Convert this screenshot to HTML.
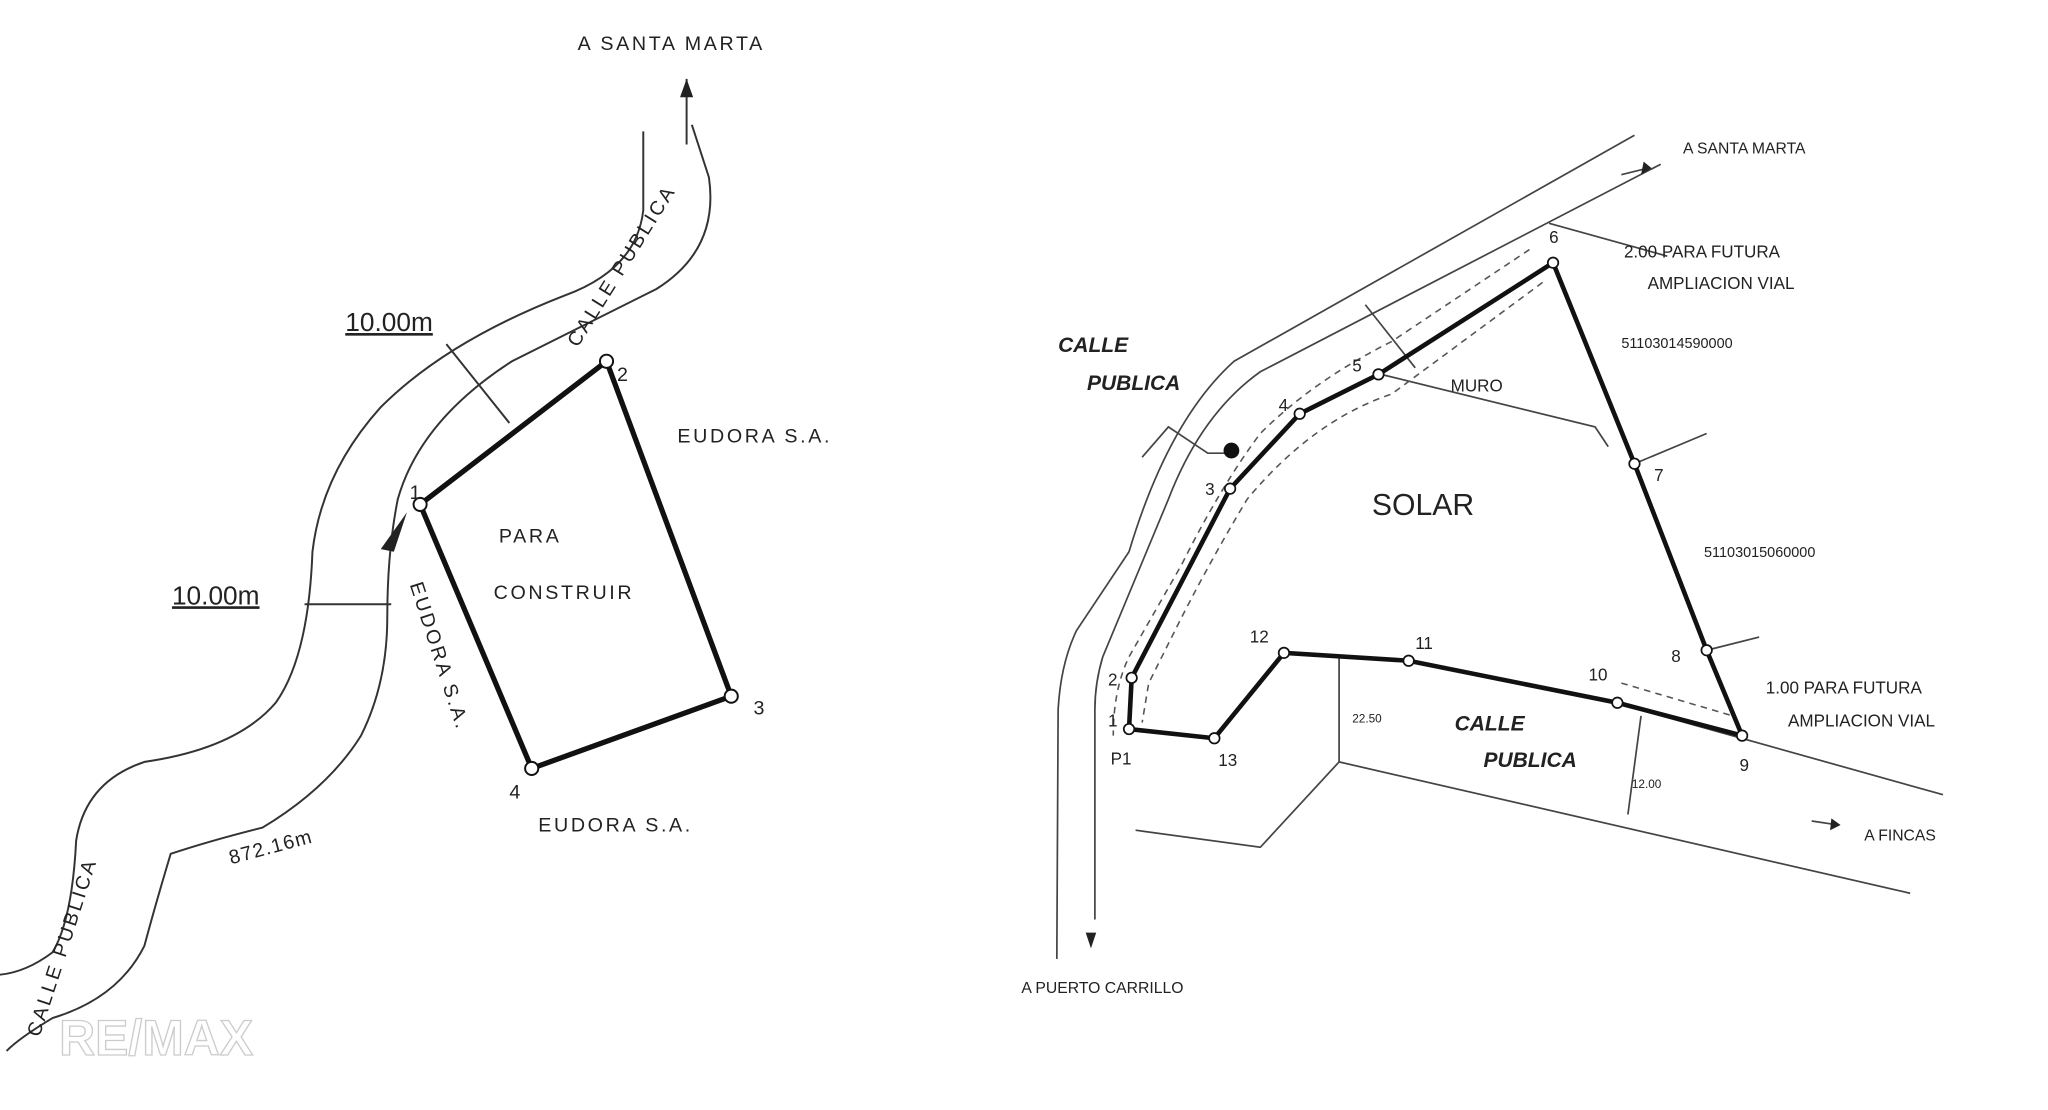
<!DOCTYPE html>
<html><head><style>
html,body{margin:0;padding:0;background:#fff;}
svg{display:block;}
text{font-family:"Liberation Sans",sans-serif;fill:#222;}
.s{font-family:"Liberation Serif",serif;font-style:italic;font-weight:bold;}
</style></head><body>
<svg width="2048" height="1110" viewBox="0 0 1560 845" preserveAspectRatio="none" xmlns="http://www.w3.org/2000/svg">
<rect width="1560" height="845" fill="#fff"/>
<g fill="none" stroke="#333" stroke-width="1.5">
<path d="M490,100 L490,160 Q485,205 430,225 Q340,260 290,310 Q245,360 238,420 Q235,500 210,535 Q180,570 110,580 Q65,595 58,640 Q55,700 40,725 Q20,740 0,742"/>
<path d="M527,95 L540,135 Q548,190 500,220 Q440,250 390,275 Q320,320 303,380 Q295,420 295,470 Q295,520 275,560 Q250,600 200,630 Q160,640 130,650 Q118,690 110,720 Q90,760 40,775 Q15,790 5,800"/>
<path d="M523,60 L523,110" />
<path d="M232,460 L298,460"/>
<path d="M340,262 L388,322"/>
</g>
<polygon points="518,74 523,60 528,74" fill="#222"/>
<path d="M300,420 L290,418 L310,390 Z" fill="#222"/>
<g fill="none" stroke="#111" stroke-width="4">
<polygon points="320,384 462,275 557,530 405,585"/>
</g>
<g fill="#fff" stroke="#111" stroke-width="1.5">
<circle cx="320" cy="384" r="5"/><circle cx="462" cy="275" r="5"/><circle cx="557" cy="530" r="5"/><circle cx="405" cy="585" r="5"/>
</g>
<g font-size="15" letter-spacing="2">
<text x="440" y="38">A SANTA MARTA</text>
<text x="516" y="337">EUDORA S.A.</text>
<text x="410" y="633">EUDORA S.A.</text>
<text x="380" y="413">PARA</text>
<text x="376" y="456">CONSTRUIR</text>
<text x="312" y="380">1</text><text x="470" y="290">2</text><text x="574" y="544">3</text><text x="388" y="608">4</text>
<text x="176" y="658" transform="rotate(-15 176 658)" letter-spacing="1">872.16m</text>
<text x="312" y="445" transform="rotate(72 312 445)">EUDORA S.A.</text>
<text x="440" y="265" transform="rotate(-58 440 265)">CALLE PUBLICA</text>
<text x="30" y="790" transform="rotate(-72 30 790)">CALLE PUBLICA</text>
</g>
<g font-size="20"><text x="131" y="460" text-decoration="underline">10.00m</text><text x="263" y="252" text-decoration="underline">10.00m</text></g>
<text x="45" y="803" font-size="38" style="fill:#fff;stroke:#ccc;stroke-width:1;font-weight:bold">RE/MAX</text>

<g fill="none" stroke="#444" stroke-width="1.3">
<path d="M1245,103 L940,275 Q890,320 860,420 L820,480 Q808,505 806,540 L805,730"/>
<path d="M1265,125 L960,283 Q915,315 890,380 L840,500 Q834,520 834,540 L834,700"/>
<path d="M1020,580 L1455,680"/>
<path d="M1230,535 L1480,605"/>
<path d="M865,632 L960,645 L1020,580 L1020,500"/>
<path d="M1250,545 L1240,620"/>
<path d="M1180,170 L1270,195" /><path d="M1040,232 L1078,280"/>
<path d="M1052,285 L1215,325 L1225,340"/>
<path d="M1245,353 L1300,330"/><path d="M1300,495 L1340,485"/>
<path d="M870,348 L890,325 L920,345 L937,345"/>
<path d="M1235,133 L1255,128"/><path d="M1380,625 L1400,628"/>
</g>
<g fill="none" stroke="#555" stroke-width="1.2" stroke-dasharray="5,4">
<path d="M1165,190 L1060,260 Q1000,290 960,330 Q930,370 900,430 L860,500 Q848,525 848,560"/>
<path d="M1175,215 L1060,300 Q1000,320 950,380 Q920,430 895,480 L875,520 L870,550"/>
<path d="M1235,520 L1320,545"/>
</g>
<polygon points="1252,123 1258,128 1250,133" fill="#222"/>
<polygon points="1395,623 1402,628 1394,632" fill="#222"/>
<polygon points="827,710 831,722 835,710" fill="#222"/>
<g fill="none" stroke="#111" stroke-width="3.5">
<polygon points="860,555 862,516 937,372 990,315 1050,285 1183,200 1245,353 1300,495 1327,560 1232,535 1073,503 978,497 925,562"/>
</g>
<g fill="#fff" stroke="#111" stroke-width="1.3">
<circle cx="860" cy="555" r="4"/><circle cx="862" cy="516" r="4"/><circle cx="937" cy="372" r="4"/><circle cx="990" cy="315" r="4"/><circle cx="1050" cy="285" r="4"/><circle cx="1183" cy="200" r="4"/><circle cx="1245" cy="353" r="4"/><circle cx="1300" cy="495" r="4"/><circle cx="1327" cy="560" r="4"/><circle cx="1232" cy="535" r="4"/><circle cx="1073" cy="503" r="4"/><circle cx="978" cy="497" r="4"/><circle cx="925" cy="562" r="4"/>
</g>
<circle cx="938" cy="343" r="6" fill="#111"/>
<g font-size="13">
<text x="1180" y="185">6</text><text x="1260" y="366">7</text><text x="1273" y="504">8</text><text x="1325" y="587">9</text>
<text x="1210" y="518">10</text><text x="1078" y="494">11</text><text x="952" y="489">12</text><text x="928" y="583">13</text>
<text x="844" y="522">2</text><text x="844" y="553">1</text><text x="846" y="582">P1</text><text x="918" y="377">3</text><text x="974" y="313">4</text><text x="1030" y="283">5</text>
<text x="1105" y="298">MURO</text>
<text x="1237" y="196">2.00 PARA FUTURA</text><text x="1255" y="220">AMPLIACION VIAL</text>
<text x="1345" y="528">1.00 PARA FUTURA</text><text x="1362" y="553">AMPLIACION VIAL</text>
<text x="1235" y="265" font-size="11">51103014590000</text>
<text x="1298" y="424" font-size="11">51103015060000</text>
<text x="1030" y="550" font-size="9">22.50</text><text x="1243" y="600" font-size="9">12.00</text>
</g>
<text x="1045" y="392" font-size="23">SOLAR</text>
<g font-family="Liberation Serif,serif" font-size="12">
<text x="1282" y="117">A SANTA MARTA</text><text x="1420" y="640">A FINCAS</text><text x="778" y="756">A PUERTO CARRILLO</text>
</g>
<g class="s" font-size="16"><text x="806" y="268">CALLE</text><text x="828" y="297">PUBLICA</text><text x="1108" y="556">CALLE</text><text x="1130" y="584">PUBLICA</text></g>
</svg>
</body></html>
